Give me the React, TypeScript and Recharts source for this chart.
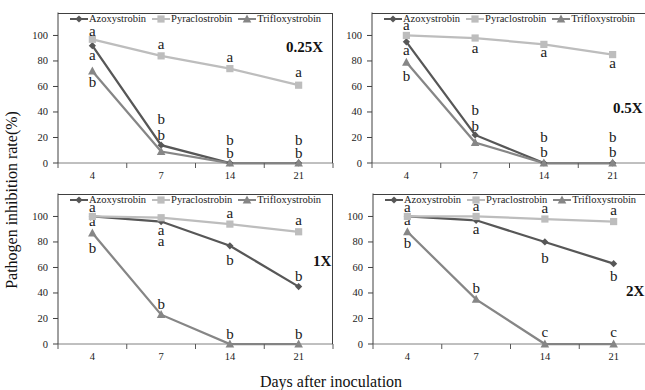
import React from 'react';
import { LineChart, Line, XAxis, YAxis, Legend } from 'recharts';

// ---------- data ----------
const days = ['4', '7', '14', '21'];
const yTicks = [0, 20, 40, 60, 80, 100];
const seriesNames = ['Azoxystrobin', 'Pyraclostrobin', 'Trifloxystrobin'];
const panelLabels = ['0.25X', '0.5X', '1X', '2X'];

// 0.25X
const azox025 = [92, 14, 0, 0];
const pyra025 = [97, 84, 74, 61];
const triflox025 = [72, 9, 0, 0];
const azoxLetters025 = ['a', 'b', 'b', 'b'];
const pyraLetters025 = ['a', 'a', 'a', 'a'];
const trifloxLetters025 = ['b', 'b', 'b', 'b'];

// 0.5X
const azox05 = [95, 22, 0, 0];
const pyra05 = [100, 98, 93, 85];
const triflox05 = [79, 16, 0, 0];
const azoxLetters05 = ['a', 'b', 'b', 'b'];
const pyraLetters05 = ['a', 'a', 'a', 'a'];
const trifloxLetters05 = ['b', 'b', 'b', 'b'];

// 1X
const azox1 = [100, 96, 77, 45];
const pyra1 = [100, 99, 94, 88];
const triflox1 = [87, 23, 0, 0];
const azoxLetters1 = ['a', 'a', 'b', 'b'];
const pyraLetters1 = ['a', 'a', 'a', 'a'];
const trifloxLetters1 = ['b', 'b', 'b', 'b'];

// 2X
const azox2 = [100, 97, 80, 63];
const pyra2 = [100, 100, 98, 96];
const triflox2 = [88, 35, 0, 0];
const azoxLetters2 = ['a', 'a', 'b', 'b'];
const pyraLetters2 = ['a', 'a', 'a', 'a'];
const trifloxLetters2 = ['b', 'b', 'c', 'c'];

function buildRows(a: number[], p: number[], t: number[], la: string[], lp: string[], lt: string[]) {
  return days.map((d, i) => ({
    day: d,
    azox: a[i],
    pyra: p[i],
    triflox: t[i],
    azoxL: la[i],
    pyraL: lp[i],
    trifloxL: lt[i],
  }));
}

const rows025 = buildRows(azox025, pyra025, triflox025, azoxLetters025, pyraLetters025, trifloxLetters025);
const rows05 = buildRows(azox05, pyra05, triflox05, azoxLetters05, pyraLetters05, trifloxLetters05);
const rows1 = buildRows(azox1, pyra1, triflox1, azoxLetters1, pyraLetters1, trifloxLetters1);
const rows2 = buildRows(azox2, pyra2, triflox2, azoxLetters2, pyraLetters2, trifloxLetters2);

// ---------- styles ----------
const SERIF = '"Liberation Serif", "Times New Roman", serif';
const CHART_W = 340;
const CHART_H = 186;
const Y_AXIS_W = 58;
const TOP_M = 12.5;
const RIGHT_M = 7;
const X_AXIS_H = 23;
const PLOT_W = CHART_W - Y_AXIS_W - RIGHT_M;
const PLOT_H = CHART_H - TOP_M - X_AXIS_H;
const BAND_HALF = PLOT_W / days.length / 2;

const SERIES = [
  { key: 'azox', name: seriesNames[0], color: '#575757', shape: 'diamond' },
  { key: 'pyra', name: seriesNames[1], color: '#bdbdbd', shape: 'square' },
  { key: 'triflox', name: seriesNames[2], color: '#868686', shape: 'triangle' },
];

// letter baseline offsets (px) relative to each point: [azox, pyra, triflox]
const LETTER_DY = [
  [[14.5, -21, -18, -18], [-3.5, -6.5, -6.5, -8.5], [16, -12, -5, -5]],
  [[13, -20, -21, -21], [-5.5, 14.5, 13, 13.5], [19, -12, -6, -6]],
  [[9.5, 13.5, 19.3, -6], [-4, 28, -6.5, -7], [20, -5.7, -5, -5]],
  [[9, 13.5, 21, 17], [-4, -5, -6, -6.5], [16.7, -6.7, -7.5, -7.5]],
];

function Marker({ shape, cx, cy, color }: any) {
  if (shape === 'diamond') {
    const r = 3.6;
    return <polygon points={`${cx},${cy - r} ${cx + r},${cy} ${cx},${cy + r} ${cx - r},${cy}`} fill={color} />;
  }
  if (shape === 'square') {
    const r = 3.6;
    return <rect x={cx - r} y={cy - r} width={2 * r} height={2 * r} fill={color} />;
  }
  return <polygon points={`${cx},${cy - 4.6} ${cx + 4.3},${cy + 3.4} ${cx - 4.3},${cy + 3.4}`} fill={color} />;
}

const makeDot = (s: any, dy: number[]) => (props: any) => {
  const { cx, cy, index, payload } = props;
  if (cx == null || cy == null) return <g key={`${s.key}-e-${index}`} />;
  const letter = payload ? payload[s.key + 'L'] : '';
  return (
    <g key={`${s.key}-${index}`}>
      <Marker shape={s.shape} cx={cx} cy={cy} color={s.color} />
      <text
        x={cx}
        y={cy + dy[index]}
        textAnchor="middle"
        style={{ fontFamily: SERIF, fontSize: 15 }}
        fill="#1a1a1a"
      >
        {letter}
      </text>
    </g>
  );
};

function XTick(props: any) {
  const { x, y, payload, index, visibleTicksCount } = props;
  const half = BAND_HALF;
  const last = index === visibleTicksCount - 1;
  return (
    <g>
      <line x1={x - half} x2={x - half} y1={y} y2={y + 5} stroke="#595959" />
      {last && <line x1={x + half} x2={x + half} y1={y} y2={y + 5} stroke="#595959" />}
      <text x={x} y={y + 16} textAnchor="middle" style={{ fontFamily: SERIF, fontSize: 10.5 }} fill="#222">
        {payload.value}
      </text>
    </g>
  );
}

function YTick(props: any) {
  const { x, y, payload } = props;
  return (
    <text x={x} y={y + 3.5} textAnchor="end" style={{ fontFamily: SERIF, fontSize: 10.5 }} fill="#222">
      {payload.value}
    </text>
  );
}

function LegendContent() {
  return (
    <div
      style={{
        display: 'flex',
        justifyContent: 'center',
        alignItems: 'center',
        fontFamily: SERIF,
        fontSize: 10.5,
        lineHeight: '12px',
        color: '#222',
        whiteSpace: 'nowrap',
      }}
    >
      {SERIES.map((s, i) => (
        <div key={s.key} style={{ display: 'flex', alignItems: 'center', marginLeft: i === 0 ? 0 : 6 }}>
          <svg width={18} height={10} style={{ display: 'block' }}>
            <line x1={0} x2={18} y1={5} y2={5} stroke={s.color} strokeWidth={2} />
            <Marker shape={s.shape} cx={9} cy={5} color={s.color} />
          </svg>
          <span style={{ marginLeft: 1 }}>{s.name}</span>
        </div>
      ))}
    </div>
  );
}

function Panel({ left, top, rows, dys, label, labelLeft, labelCy }: any) {
  return (
    <div style={{ position: 'absolute', left, top, width: CHART_W, height: CHART_H }}>
      <LineChart
        width={CHART_W}
        height={CHART_H}
        data={rows}
        margin={{ top: TOP_M, right: RIGHT_M, bottom: 0, left: 0 }}
      >
        <XAxis
          dataKey="day"
          type="category"
          interval={0}
          height={X_AXIS_H}
          padding={{ left: BAND_HALF, right: BAND_HALF }}
          tickSize={0}
          tickMargin={0}
          tickLine={false}
          axisLine={{ stroke: '#808080', strokeWidth: 1 }}
          tick={(p: any) => <XTick {...p} />}
        />
        <YAxis
          type="number"
          domain={[0, 118]}
          ticks={yTicks}
          interval={0}
          width={Y_AXIS_W}
          tickSize={5}
          tickMargin={5}
          axisLine={{ stroke: '#404040' }}
          tickLine={{ stroke: '#404040' }}
          tick={(p: any) => <YTick {...p} />}
        />
        <Legend
          layout="horizontal"
          verticalAlign="middle"
          align="center"
          wrapperStyle={{ top: 13, left: Y_AXIS_W, width: PLOT_W, height: 12 }}
          content={() => <LegendContent />}
        />
        {SERIES.map((s, si) => (
          <Line
            key={s.key}
            dataKey={s.key}
            name={s.name}
            stroke={s.color}
            strokeWidth={2.25}
            isAnimationActive={false}
            dot={makeDot(s, dys[si])}
            activeDot={false}
          />
        ))}
      </LineChart>
      {/* plot-area frame (top and right edges) */}
      <div
        style={{
          position: 'absolute',
          left: Y_AXIS_W,
          top: TOP_M,
          width: PLOT_W,
          height: PLOT_H,
          boxSizing: 'border-box',
          borderTop: '1px solid #404040',
          borderRight: '1px solid #404040',
          pointerEvents: 'none',
        }}
      />
      <div
        style={{
          position: 'absolute',
          left: labelLeft,
          top: labelCy - 9,
          fontFamily: SERIF,
          fontWeight: 'bold',
          fontSize: 15,
          lineHeight: '18px',
          color: '#111',
          whiteSpace: 'nowrap',
        }}
      >
        {label}
      </div>
    </div>
  );
}

export default function App() {
  return (
    <div
      style={{
        position: 'absolute',
        left: 0,
        top: 0,
        width: 645,
        height: 390,
        overflow: 'hidden',
        background: '#fff',
      }}
    >
      <Panel left={0} top={0} rows={rows025} dys={LETTER_DY[0]} label={panelLabels[0]} labelLeft={286} labelCy={47} />
      <Panel left={314} top={0} rows={rows05} dys={LETTER_DY[1]} label={panelLabels[1]} labelLeft={299} labelCy={108} />
      <Panel left={0} top={181} rows={rows1} dys={LETTER_DY[2]} label={panelLabels[2]} labelLeft={313} labelCy={80} />
      <Panel left={315} top={181} rows={rows2} dys={LETTER_DY[3]} label={panelLabels[3]} labelLeft={311} labelCy={110} />
      <div
        style={{
          position: 'absolute',
          left: 12,
          top: 200,
          transform: 'translate(-50%, -50%) rotate(-90deg)',
          fontFamily: SERIF,
          fontSize: 16,
          whiteSpace: 'nowrap',
          color: '#111',
        }}
      >
        Pathogen inhibition rate(%)
      </div>
      <div
        style={{
          position: 'absolute',
          left: 331,
          top: 382,
          transform: 'translate(-50%, -50%)',
          fontFamily: SERIF,
          fontSize: 16,
          whiteSpace: 'nowrap',
          color: '#111',
        }}
      >
        Days after inoculation
      </div>
    </div>
  );
}
